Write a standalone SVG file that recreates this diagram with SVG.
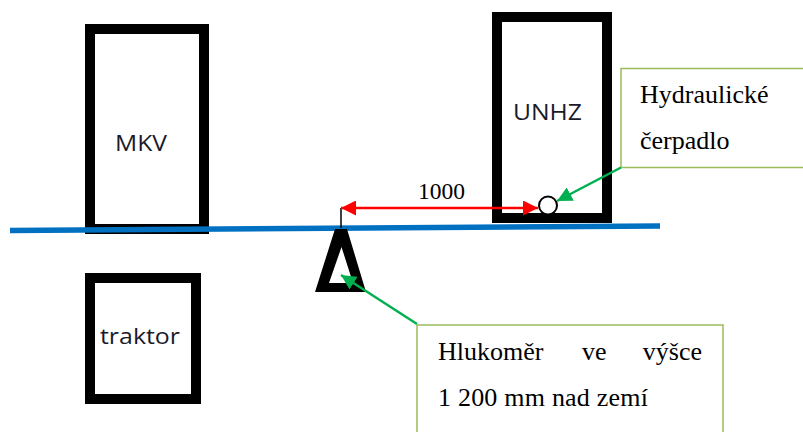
<svg xmlns="http://www.w3.org/2000/svg" width="803" height="432" viewBox="0 0 803 432">
<defs>
<style>
.box{fill:#fff;stroke:#000;stroke-width:10}
.lbl{font-family:"Open Sans","Lato","Liberation Sans",sans-serif;font-size:22px;fill:#1a1a2a}
.note{fill:#fff;stroke:#9BBB59;stroke-width:1.5}
.nt{font-family:"Liberation Serif","Times New Roman",serif;font-size:26px;fill:#000}
.g{stroke:#00B050;stroke-width:2.5;fill:none}
.r{stroke:#FF0000;stroke-width:2.5;fill:none}
</style>
<marker id="ag" viewBox="0 0 10 10" refX="10" refY="5" markerWidth="6" markerHeight="6" markerUnits="strokeWidth" orient="auto"><path d="M0,0L10,5L0,10z" fill="#00B050"/></marker>
<marker id="ar" viewBox="0 0 10 10" refX="10" refY="5" markerWidth="6" markerHeight="6" markerUnits="strokeWidth" orient="auto-start-reverse"><path d="M0,0L10,5L0,10z" fill="#FF0000"/></marker>
</defs>
<rect width="803" height="432" fill="#fff"/>
<g id="mkv"><rect class="box" x="90" y="29" width="114" height="200"/><text class="lbl" x="115" y="151" textLength="52" lengthAdjust="spacingAndGlyphs">MKV</text></g>
<g id="unhz"><rect class="box" x="497" y="17" width="110" height="201"/><text class="lbl" x="513" y="120" textLength="69" lengthAdjust="spacingAndGlyphs">UNHZ</text></g>
<g id="traktor"><rect class="box" x="90" y="278" width="106" height="121"/><text class="lbl" x="100" y="344" textLength="80" lengthAdjust="spacingAndGlyphs">traktor</text></g>
<g id="ground"><line x1="10" y1="230.5" x2="660" y2="226" stroke="#0070C0" stroke-width="5.5"/></g>
<g id="hlukomer-mark"><path fill="#000" fill-rule="evenodd" d="M335,229L347,229L366,292L315,292Z M341.5,247L353,283L329,283Z"/></g>
<g id="pump"><circle cx="548" cy="205.5" r="9" fill="#fff" stroke="#000" stroke-width="2"/></g>
<g id="note-pump"><rect class="note" x="621" y="68.5" width="200" height="99"/><text class="nt" x="640" y="103">Hydraulické</text><text class="nt" x="640" y="149">čerpadlo</text></g>
<g id="note-mic"><rect class="note" x="417" y="325" width="306" height="130"/><text class="nt" x="438" y="360">Hlukoměr</text><text class="nt" x="582" y="360">ve</text><text class="nt" x="702" y="360" text-anchor="end">výšce</text><text class="nt" x="438" y="406" textLength="210" lengthAdjust="spacing">1 200 mm nad zemí</text></g>
<g id="connectors">
<line x1="341" y1="208" x2="341" y2="228" stroke="#000" stroke-width="1.5"/>
<line class="r" x1="341" y1="208" x2="538" y2="208" marker-start="url(#ar)" marker-end="url(#ar)"/>
<text x="418" y="199" font-family="Liberation Serif, serif" font-size="23" textLength="47" lengthAdjust="spacingAndGlyphs">1000</text>
<line class="g" x1="621" y1="167.5" x2="557" y2="201" marker-end="url(#ag)"/>
<line class="g" x1="417" y1="324" x2="341" y2="275" marker-end="url(#ag)"/>
</g>
</svg>
